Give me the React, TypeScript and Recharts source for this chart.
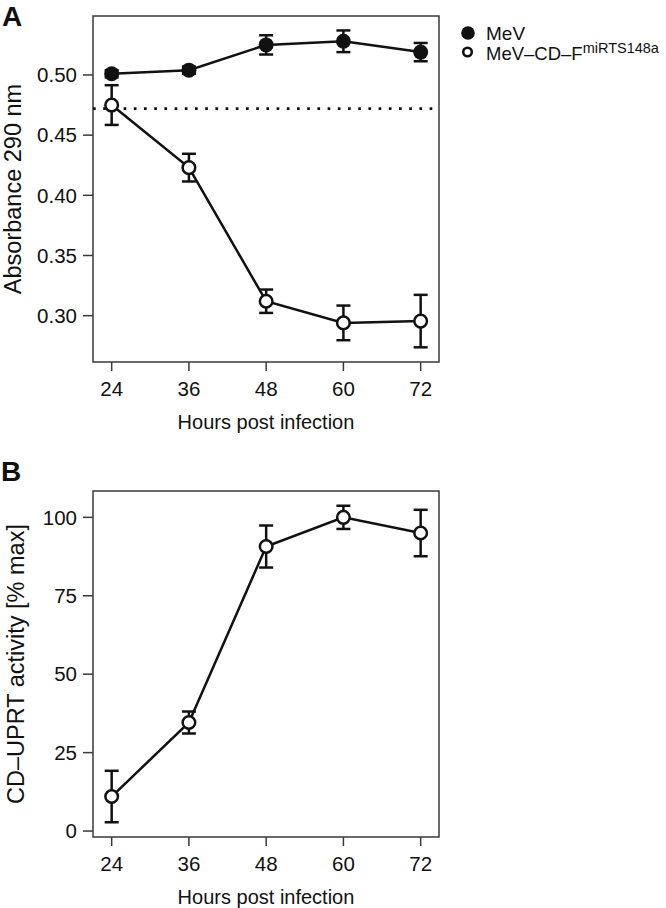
import React from "react";
import {
  LineChart,
  Line,
  XAxis,
  YAxis,
  ErrorBar,
  ReferenceArea,
  ReferenceLine,
} from "recharts";

const hours = [24, 36, 48, 60, 72];

// panel A: absorbance at 290 nm
const mevAbs = [0.501, 0.504, 0.525, 0.528, 0.519];
const mevAbsErr = [0.003, 0.003, 0.008, 0.009, 0.0076];
const cdAbs = [0.475, 0.423, 0.312, 0.294, 0.2955];
const cdAbsErr = [0.0165, 0.0115, 0.0097, 0.0144, 0.0218];
const cutoff = 0.472;
const absTicks = [0.3, 0.35, 0.4, 0.45, 0.5];

// panel B: CD-UPRT activity, % of max
const cdActivity = [11.0, 34.6, 90.7, 100, 95.0];
const cdActivityErr = [8.2, 3.5, 6.7, 3.7, 7.4];
const activityTicks = [0, 25, 50, 75, 100];

const FONT = "'Liberation Sans', Arial, Helvetica, sans-serif";
const INK = "#111";
const FRAME = "#3a3a3a";

const xDomain = [21.1, 74.85];
const absDomain = [0.2615, 0.549];
const activityDomain = [-1.9, 108.4];

const absData = hours.map((h, i) => ({
  hour: h,
  mev: mevAbs[i],
  mevErr: mevAbsErr[i],
  cd: cdAbs[i],
  cdErr: cdAbsErr[i],
}));

const activityData = hours.map((h, i) => ({
  hour: h,
  cd: cdActivity[i],
  cdErr: cdActivityErr[i],
}));

const tickStyle = { fill: INK, fontSize: 20.5, fontFamily: FONT };
const tickLineStyle = { stroke: FRAME, strokeWidth: 1.5 };

const FilledDot = (props: any) => {
  const { cx, cy, index } = props;
  if (cx == null || cy == null) return null;
  return <circle key={`f-${index}`} cx={cx} cy={cy} r={7.5} fill={INK} />;
};

const OpenDot = (props: any) => {
  const { cx, cy, index } = props;
  if (cx == null || cy == null) return null;
  return (
    <circle
      key={`o-${index}`}
      cx={cx}
      cy={cy}
      r={6.3}
      fill="#fff"
      stroke={INK}
      strokeWidth={2.5}
    />
  );
};

const CHART_W = 666;
const CHART_H = 433;
const margin = { top: 16, right: 227, bottom: 0, left: 0 };

const xLabel = {
  value: "Hours post infection",
  position: "insideBottom" as const,
  offset: 4,
  fill: INK,
  fontSize: 20,
  fontFamily: FONT,
};

function AbsorbancePanel() {
  return (
    <LineChart width={CHART_W} height={CHART_H} data={absData} margin={margin}>
      <XAxis
        type="number"
        dataKey="hour"
        domain={xDomain}
        ticks={hours}
        allowDataOverflow
        axisLine={false}
        tickLine={tickLineStyle}
        tickSize={9}
        tickMargin={10}
        tick={tickStyle}
        height={71}
        label={xLabel}
      />
      <YAxis
        type="number"
        domain={absDomain}
        ticks={absTicks}
        allowDataOverflow
        width={93}
        axisLine={false}
        tickLine={tickLineStyle}
        tickSize={10}
        tickMargin={6}
        tick={tickStyle}
        tickFormatter={(v) => v.toFixed(2)}
        label={{
          value: "Absorbance 290 nm",
          angle: -90,
          position: "insideLeft",
          offset: 12.5,
          fill: INK,
          fontSize: 23.5,
          fontFamily: FONT,
          style: { textAnchor: "middle" },
        }}
      />
      <ReferenceArea
        x1={xDomain[0]}
        x2={xDomain[1]}
        y1={absDomain[0]}
        y2={absDomain[1]}
        fill="none"
        stroke={FRAME}
        strokeWidth={1.5}
        ifOverflow="visible"
      />
      <ReferenceLine
        y={cutoff}
        stroke={INK}
        strokeWidth={2.7}
        strokeDasharray="2.7 7.5"
      />
      <Line
        type="linear"
        dataKey="mev"
        stroke={INK}
        strokeWidth={2.5}
        dot={<FilledDot />}
        activeDot={false}
        isAnimationActive={false}
      >
        <ErrorBar
          dataKey="mevErr"
          direction="y"
          width={7}
          stroke={INK}
          strokeWidth={2.5}
          isAnimationActive={false}
        />
      </Line>
      <Line
        type="linear"
        dataKey="cd"
        stroke={INK}
        strokeWidth={2.5}
        dot={<OpenDot />}
        activeDot={false}
        isAnimationActive={false}
      >
        <ErrorBar
          dataKey="cdErr"
          direction="y"
          width={7}
          stroke={INK}
          strokeWidth={2.5}
          isAnimationActive={false}
        />
      </Line>
    </LineChart>
  );
}

function ActivityPanel() {
  return (
    <LineChart width={CHART_W} height={CHART_H} data={activityData} margin={margin}>
      <XAxis
        type="number"
        dataKey="hour"
        domain={xDomain}
        ticks={hours}
        allowDataOverflow
        axisLine={false}
        tickLine={tickLineStyle}
        tickSize={9}
        tickMargin={10}
        tick={tickStyle}
        height={71}
        label={xLabel}
      />
      <YAxis
        type="number"
        domain={activityDomain}
        ticks={activityTicks}
        allowDataOverflow
        width={93}
        axisLine={false}
        tickLine={tickLineStyle}
        tickSize={10}
        tickMargin={6}
        tick={tickStyle}
        label={{
          value: "CD–UPRT activity [% max]",
          angle: -90,
          position: "insideLeft",
          offset: 15.5,
          fill: INK,
          fontSize: 23.5,
          fontFamily: FONT,
          style: { textAnchor: "middle" },
        }}
      />
      <ReferenceArea
        x1={xDomain[0]}
        x2={xDomain[1]}
        y1={activityDomain[0]}
        y2={activityDomain[1]}
        fill="none"
        stroke={FRAME}
        strokeWidth={1.5}
        ifOverflow="visible"
      />
      <Line
        type="linear"
        dataKey="cd"
        stroke={INK}
        strokeWidth={2.5}
        dot={<OpenDot />}
        activeDot={false}
        isAnimationActive={false}
      >
        <ErrorBar
          dataKey="cdErr"
          direction="y"
          width={7}
          stroke={INK}
          strokeWidth={2.5}
          isAnimationActive={false}
        />
      </Line>
    </LineChart>
  );
}

function Legend() {
  return (
    <svg
      width={220}
      height={70}
      style={{ position: "absolute", left: 446, top: 0 }}
    >
      <circle cx={22} cy={33} r={6.8} fill={INK} />
      <text x={40} y={40} fontSize={19} fill={INK} fontFamily={FONT}>
        MeV
      </text>
      <circle cx={21.5} cy={52} r={4.3} fill="#fff" stroke={INK} strokeWidth={2.6} />
      <text x={40} y={60} fontSize={18.5} fill={INK} fontFamily={FONT}>
        MeV–CD–F
        <tspan fontSize={14.5} dy={-7}>
          miRTS148a
        </tspan>
      </text>
    </svg>
  );
}

const panelLabel: React.CSSProperties = {
  position: "absolute",
  fontFamily: FONT,
  fontWeight: "bold",
  fontSize: 28,
  lineHeight: 1,
  color: INK,
};

export default function App() {
  return (
    <div
      style={{
        position: "absolute",
        left: 0,
        top: 0,
        width: 666,
        height: 908,
        overflow: "hidden",
        background: "#fff",
        fontFamily: FONT,
      }}
    >
      <div style={{ position: "absolute", left: 0, top: 0 }}>
        <AbsorbancePanel />
      </div>
      <div style={{ position: "absolute", left: 0, top: 475 }}>
        <ActivityPanel />
      </div>
      <Legend />
      <div style={{ ...panelLabel, left: 2, top: 3 }}>A</div>
      <div style={{ ...panelLabel, left: 1, top: 458 }}>B</div>
    </div>
  );
}
